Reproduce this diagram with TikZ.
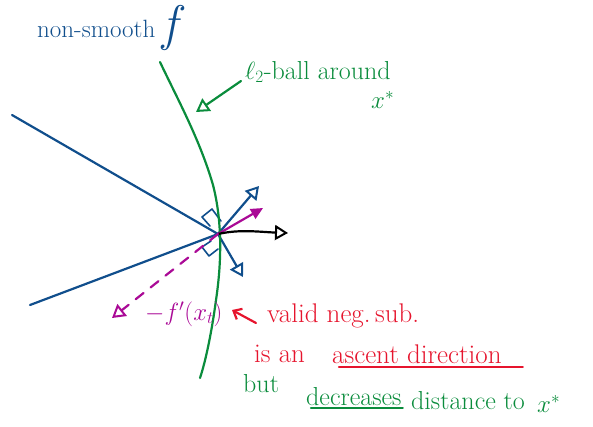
\documentclass[tikz,border=0pt]{standalone}
\usetikzlibrary{arrows.meta}
\definecolor{pblue}{RGB}{16,78,140}
\definecolor{pgreen}{RGB}{10,140,60}
\definecolor{pmag}{RGB}{170,10,150}
\definecolor{pred}{RGB}{230,20,45}
\tikzset{
  pen/.style={line width=2.2pt, line cap=round, line join=round},
  hand/.style={font=\fontsize{#1}{#1}\selectfont, inner sep=1pt, anchor=west},
  hand/.default=24,
  otri/.style={-{Triangle[open, length=13pt, width=15pt, line width=2pt]}},
}
\begin{document}
\begin{tikzpicture}[x=1pt,y=-1pt]
\useasboundingbox (0,0) rectangle (593,426);
\coordinate (k) at (218,234);
% title
\node[hand=25, pblue] (title) at (36,29) {non-smooth};
\node[pblue, font=\fontsize{50}{50}\selectfont\itshape, anchor=west, inner sep=0pt] (f) at (162,28) {f};
% blue kinked function
\coordinate (bl1) at (12,115);
\coordinate (bl2) at (30,305);
\draw[pen, pblue] (bl1) -- (k) -- (bl2);
% blue subgradient arrows
\coordinate (bu) at (259,186);
\coordinate (bd) at (243,277);
\draw[pen, pblue, otri] (k) -- (bu);
\draw[pen, pblue, otri] (k) -- (bd);
% right-angle marks
\draw[pen, pblue, line width=1.6pt] (210,226) -- (202,217) -- (212,209) -- (221,221);
\draw[pen, pblue, line width=1.6pt] (211,241) -- (202,247) -- (209,256) -- (218,249);
% green ball
\draw[pen, pgreen] (160,62) .. controls (178,100) and (200,140) .. (213,185)
  .. controls (222,220) and (222,260) .. (216,300) .. controls (212,330) and (206,360) .. (200,378);
% magenta arrow
\coordinate (mt) at (263,208);
\draw[pen, pmag, -{Triangle[length=12pt, width=11pt]}] (k) -- (mt);
% black arrow
\coordinate (bt) at (288,233);
\draw[pen, black, otri] (k) .. controls (240,229) and (260,232) .. (bt);
% magenta dashed
\coordinate (md) at (112,318);
\draw[pen, pmag, dashed, dash pattern=on 10pt off 9pt, otri] (k) -- (md);
\node[hand=25, pmag] (negf) at (144,314) {$-f'(x_t)$};
% green label pointer
\coordinate (gp) at (196,112);
\coordinate (gs) at (241,81);
\node[hand=26, pgreen] (ball) at (244,72) {$\ell_2$-ball around};
\node[hand=26, pgreen] (xs) at (370,100) {$x^*$};
\draw[pen, pgreen, otri] (gs) -- (gp);
% red annotation
\node[hand=27, pred] (valid) at (266,316) {valid neg.\,sub.};
\coordinate (ra) at (232,310);
\coordinate (rs) at (256,323);
\draw[pen, pred, -{Straight Barb[length=7pt, width=12pt]}] (rs) -- (ra);
\node[hand=27, pred] (isan) at (253,354) {is an};
\node[hand=27, pred] (asc) at (331,354) {ascent direction};
\draw[pen, pred] ([xshift=8pt,yshift=-2pt]asc.south west) -- ([xshift=20pt,yshift=-2pt]asc.south east);
% green conclusion
\node[hand=26, pgreen] (but) at (242,384) {but};
\node[hand=26, pgreen] (dec) at (305,397) {decreases};
\draw[pen, pgreen] ([xshift=6pt,yshift=-1pt]dec.south west) -- ([yshift=-1pt]dec.south east);
\node[hand=26, pgreen] (dist) at (410,401) {distance to};
\node[hand=26, pgreen] (xs2) at (536,404) {$x^*$};
\end{tikzpicture}
\end{document}
